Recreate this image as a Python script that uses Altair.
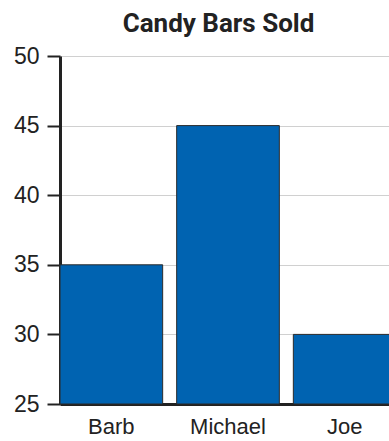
import altair as alt
import pandas as pd

names = ["Barb", "Michael", "Joe"]
sold = [35, 45, 30]
y_ticks = [25, 30, 35, 40, 45, 50]

df = pd.DataFrame({"name": names, "sold": sold})

chart = alt.Chart(df).mark_bar(
    color="#0063b1", stroke="#2b2b2b", strokeWidth=1
).encode(
    x=alt.X("name:N", sort=names, title=None,
            scale=alt.Scale(paddingInner=0.12, paddingOuter=0, range=[0, 336]),
            axis=alt.Axis(labelAngle=0, labelFontSize=22, labelColor="#222",
                          labelFont="Liberation Sans", ticks=False,
                          domainColor="#222", domainWidth=3, labelPadding=12,
                          grid=False)),
    y=alt.Y("sold:Q", title=None,
            scale=alt.Scale(domain=[25, 50], zero=False, nice=False),
            axis=alt.Axis(values=y_ticks, labelFontSize=23, labelColor="#222",
                          labelFont="Liberation Sans", tickColor="#222",
                          tickWidth=2, tickSize=13, labelPadding=8,
                          domainColor="#222", domainWidth=3,
                          gridColor="#d0d0d0", gridWidth=1)),
    y2=alt.datum(25),
).properties(
    width=329, height=348,
    title=alt.TitleParams("Candy Bars Sold", font="Roboto", fontSize=26,
                          fontWeight="bold", color="#222", offset=8, dx=-6),
    autosize=alt.AutoSizeParams(type="none"),
    padding={"left": 60, "top": 56, "right": 0, "bottom": 37},
).configure_view(stroke=None)

chart.save("out.html", embed_options={"renderer": "svg", "actions": False})
